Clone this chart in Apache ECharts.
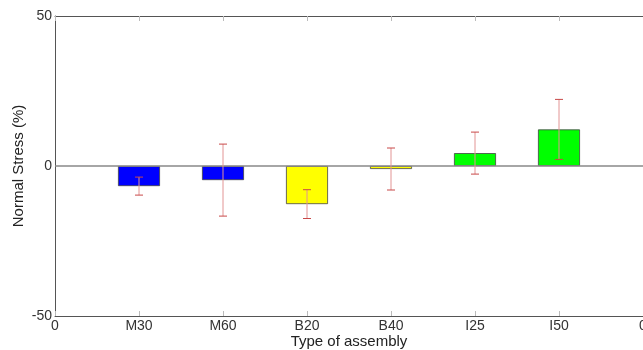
<!DOCTYPE html>
<html>
<head>
<meta charset="utf-8">
<script src="https://cdn.jsdelivr.net/npm/echarts@6/dist/echarts.min.js"></script>
<style>
  html, body { margin: 0; padding: 0; background: #fff; }
  #chart { width: 643px; height: 350px; }
</style>
</head>
<body>
<div id="chart"></div>
<script>
// values
const categories = ["M30", "M60", "B20", "B40", "I25", "I50"];
const stress = [-6.7, -4.7, -12.7, -1.0, 4.3, 12.2];
const stressErr = [3, 12, 4.8, 7, 7, 10];
const barColors = ["#0000ff", "#0000ff", "#ffff00", "#ffff00", "#00ff00", "#00ff00"];
const xTickLabels = ["0", "M30", "M60", "B20", "B40", "I25", "I50", "0"];
const yTickLabels = { "-50": "-50", "0": "0", "50": "50" };

const font = "'Liberation Sans', Arial, sans-serif";

const barData = stress.map((v, i) => ({
  value: [i + 1, v],
  itemStyle: { color: barColors[i] }
}));
const errData = stress.map((v, i) => [i + 1, v - stressErr[i], v + stressErr[i]]);

const chart = echarts.init(document.getElementById("chart"), null, { renderer: "canvas" });

const option = {
  animation: false,
  grid: { left: 55, right: 0, top: 16, bottom: 34, outerBoundsMode: "none", containLabel: false },
  xAxis: [
    {
      type: "value",
      min: 0,
      max: 7,
      interval: 1,
      name: "Type of assembly",
      nameLocation: "middle",
      nameMoveOverlap: false,
      nameGap: 18,
      nameTextStyle: { color: "#222", fontFamily: font, fontSize: 15 },
      axisLine: { onZero: false, lineStyle: { color: "#555", width: 1 } },
      axisTick: { inside: true, length: 5, lineStyle: { color: "#bbb" } },
      axisLabel: {
        color: "#333",
        fontFamily: font,
        fontSize: 14,
        margin: 3,
        showMaxLabel: true,
        formatter: (v) => xTickLabels[Math.round(v)]
      },
      splitLine: { show: false }
    },
    {
      type: "value",
      position: "top",
      min: 0,
      max: 7,
      interval: 1,
      axisLine: { onZero: false, lineStyle: { color: "#555", width: 1 } },
      axisTick: { inside: true, length: 5, lineStyle: { color: "#bbb" } },
      axisLabel: { show: false },
      splitLine: { show: false }
    }
  ],
  yAxis: [
    {
      type: "value",
      min: -50,
      max: 50,
      interval: 50,
      name: "Normal Stress (%)",
      nameLocation: "middle",
      nameMoveOverlap: false,
      nameGap: 29,
      nameTextStyle: { color: "#222", fontFamily: font, fontSize: 15 },
      axisLine: { onZero: false, lineStyle: { color: "#555", width: 1 } },
      axisTick: { show: false },
      axisLabel: {
        color: "#333",
        fontFamily: font,
        fontSize: 14,
        margin: 3,
        formatter: (v) => yTickLabels[String(v)]
      },
      splitLine: { show: false }
    },
    {
      type: "value",
      position: "right",
      min: -50,
      max: 50,
      interval: 50,
      axisLine: { show: true, onZero: false, lineStyle: { color: "#555", width: 1 } },
      axisTick: { show: false },
      axisLabel: { show: false },
      splitLine: { show: false }
    }
  ],
  series: [
    {
      type: "bar",
      barWidth: 42,
      data: barData,
      itemStyle: { borderColor: "#444", borderWidth: 0.8 },
      markLine: {
        silent: true,
        symbol: "none",
        label: { show: false },
        lineStyle: { color: "#888", width: 1.5, type: "solid" },
        data: [{ yAxis: 0 }]
      },
      z: 2
    },
    {
      type: "custom",
      z: 5,
      data: errData,
      encode: { x: 0, y: [1, 2] },
      renderItem: (params, api) => {
        const x = api.value(0);
        const lo = api.coord([x, api.value(1)]);
        const hi = api.coord([x, api.value(2)]);
        const w = 4;
        const capStyle = { stroke: "#c84848", lineWidth: 1 };
        return {
          type: "group",
          children: [
            { type: "line", shape: { x1: lo[0], y1: lo[1], x2: hi[0], y2: hi[1] },
              style: { stroke: "#e29494", lineWidth: 1 } },
            { type: "line", shape: { x1: lo[0] - w, y1: lo[1], x2: lo[0] + w, y2: lo[1] }, style: capStyle },
            { type: "line", shape: { x1: hi[0] - w, y1: hi[1], x2: hi[0] + w, y2: hi[1] }, style: capStyle }
          ]
        };
      }
    }
  ]
};

chart.setOption(option);
window.onresize = () => chart.resize();
</script>
</body>
</html>
